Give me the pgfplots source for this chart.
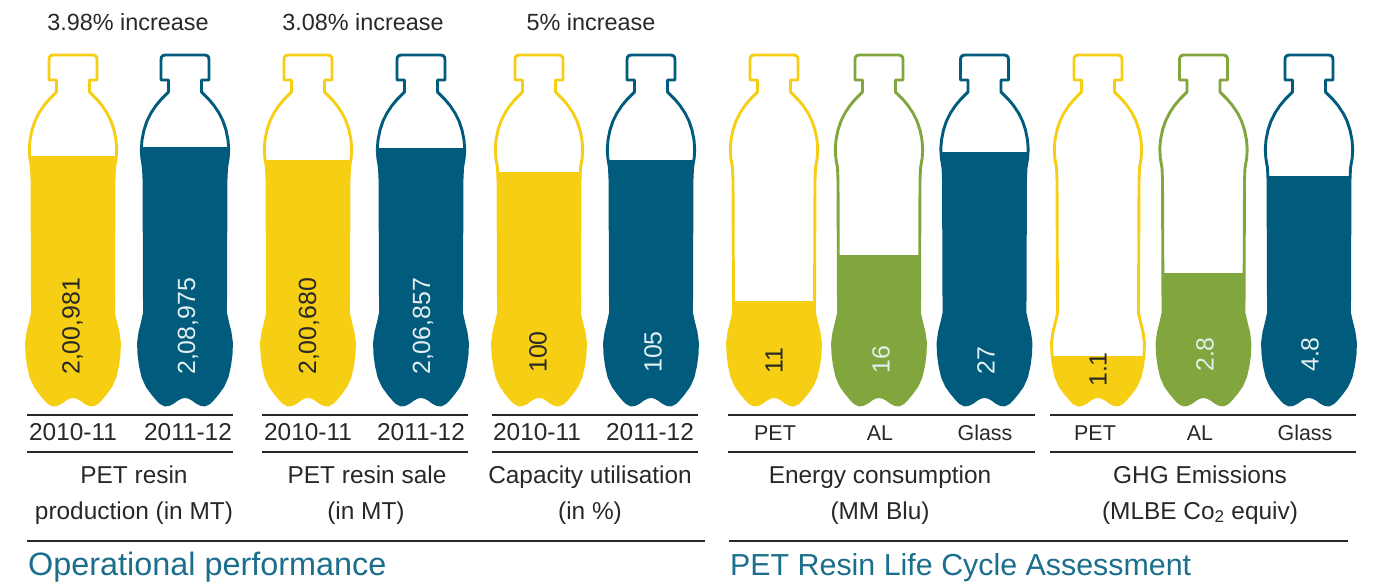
\documentclass[border=0pt]{standalone}
\usepackage{pgfplots}
\usepackage{pgfplotstable}
\pgfplotsset{compat=1.18}
\usepackage{fontspec}
\setmainfont{Liberation Sans}
\definecolor{cY}{RGB}{246,206,20}
\definecolor{cB}{RGB}{0,91,125}
\definecolor{cG}{RGB}{130,166,62}
\definecolor{txt}{RGB}{40,40,40}
\definecolor{ttl}{RGB}{27,110,140}
\definecolor{lite}{RGB}{228,238,240}

% bottle outline template: dx from bottle centre, y in pixels (downwards)
\pgfplotstableread{
dx y
0 55
-20 55
-22.5 55.8
-23.7 57.5
-24 60
-24 80
-16.5 80
-16.5 92
-20 95.5
-24 99.5
-29 105.5
-34 113
-38 121
-41 130
-43 140
-43.7 149
-43.2 158
-41.5 168
-41 180
-40.5 313
-42.5 322
-45 332
-46.5 343
-46 355
-44.5 366
-42 377
-38 386
-33 393
-28 399
-24 403
-20 405
-16 404.5
-12 402.5
-8 399.5
-4 397.3
0 396.5
4 397.3
8 399.5
12 402.5
16 404.5
20 405
24 403
28 399
33 393
38 386
42 377
44.5 366
46 355
46.5 343
45 332
42.5 322
40.5 313
41 180
41.5 168
43.2 158
43.7 149
43 140
41 130
38 121
34 113
29 105.5
24 99.5
20 95.5
16.5 92
16.5 80
24 80
24 60
23.7 57.5
22.5 55.8
20 55
0 55
}\bottletpl

% #1 centre x, #2 fill level (pixel y of the liquid surface), #3 colour
\newcommand{\bottle}[3]{%
  \addplot[fill=#3, draw=none] table[x expr=\thisrow{dx}+#1, y=y] {\bottletpl};
  \addplot[fill=white, draw=none] coordinates {(#1-49,50) (#1+49,50) (#1+49,#2) (#1-49,#2)};
  \addplot[draw=#3, line width=2.9pt, line join=round] table[x expr=\thisrow{dx}+#1, y=y] {\bottletpl};
}
\newcommand{\cat}[3]{\node[anchor=base, text=txt, inner sep=0] at (axis cs:#1,440) {\fontsize{#3}{27}\selectfont #2};}
\newcommand{\val}[4]{\node[rotate=90, anchor=west, inner sep=0, text=#4] at (axis cs:#1,#2) {\fontsize{25}{25}\selectfont #3};}
\newcommand{\glab}[3]{\node[anchor=base, text=txt, inner sep=0] at (axis cs:#1,#2) {\fontsize{24.5}{29}\selectfont #3};}

\begin{document}
\begin{tikzpicture}
\begin{axis}[
  width=1373bp, height=583bp, scale only axis,
  xmin=0, xmax=1373, ymin=0, ymax=583, y dir=reverse,
  hide axis, clip=false]
\addplot[draw=none] coordinates {(0,0) (1373,583)};

% bottles: centre, liquid level, colour
\bottle{73}{156}{cY}
\bottle{185}{147}{cB}
\bottle{308}{160}{cY}
\bottle{421}{148}{cB}
\bottle{539}{172}{cY}
\bottle{651}{160}{cB}
\bottle{774}{301}{cY}
\bottle{879}{255}{cG}
\bottle{984.5}{152}{cB}
\bottle{1098}{356}{cY}
\bottle{1203.5}{273}{cG}
\bottle{1309}{176}{cB}

% rules
\addplot[txt, line width=1.3pt] coordinates {(27,415) (233,415)};
\addplot[txt, line width=1.3pt] coordinates {(262,415) (468,415)};
\addplot[txt, line width=1.3pt] coordinates {(492,415) (698,415)};
\addplot[txt, line width=1.3pt] coordinates {(728,415) (1035,415)};
\addplot[txt, line width=1.3pt] coordinates {(1050,415) (1356,415)};
\addplot[txt, line width=1.3pt] coordinates {(27,452) (233,452)};
\addplot[txt, line width=1.3pt] coordinates {(262,452) (468,452)};
\addplot[txt, line width=1.3pt] coordinates {(492,452) (698,452)};
\addplot[txt, line width=1.3pt] coordinates {(728,452) (1035,452)};
\addplot[txt, line width=1.3pt] coordinates {(1050,452) (1356,452)};
\addplot[txt, line width=1.3pt] coordinates {(27,541) (705,541)};
\addplot[txt, line width=1.3pt] coordinates {(729,541) (1348,541)};

% top annotations
\node[anchor=base, text=txt, inner sep=0] at (axis cs:128,31) {\fontsize{23.5}{28}\selectfont 3.98\% increase};
\node[anchor=base, text=txt, inner sep=0] at (axis cs:363,31) {\fontsize{23.5}{28}\selectfont 3.08\% increase};
\node[anchor=base, text=txt, inner sep=0] at (axis cs:591,31) {\fontsize{23.5}{28}\selectfont 5\% increase};

% values inside bottles
\val{72.5}{375}{2,00,981}{txt}
\val{188}{375}{2,08,975}{lite}
\val{309}{375}{2,00,680}{txt}
\val{423}{375}{2,06,857}{lite}
\val{538}{373}{100}{txt}
\val{653}{373}{105}{lite}
\val{774}{374}{11}{txt}
\val{881}{374}{16}{lite}
\val{986}{375}{27}{lite}
\val{1098}{387}{1.1}{txt}
\val{1205}{372}{2.8}{lite}
\val{1310}{372}{4.8}{lite}

% category labels
\cat{73}{2010-11}{24.5}
\cat{188}{2011-12}{24.5}
\cat{308}{2010-11}{24.5}
\cat{421}{2011-12}{24.5}
\cat{537}{2010-11}{24.5}
\cat{650}{2011-12}{24.5}
\cat{775}{PET}{21.5}
\cat{880}{AL}{21.5}
\cat{985}{Glass}{21.5}
\cat{1095}{PET}{21.5}
\cat{1200}{AL}{21.5}
\cat{1305}{Glass}{21.5}

% group labels
\glab{134}{483}{PET resin}
\glab{134}{519}{production (in MT)}
\glab{367}{483}{PET resin sale}
\glab{366}{519}{(in MT)}
\glab{590}{483}{Capacity utilisation}
\glab{590}{519}{(in \%)}
\glab{880}{483}{Energy consumption}
\glab{880}{519}{(MM Blu)}
\glab{1200}{483}{GHG Emissions}
\glab{1200}{519}{(MLBE Co\textsubscript{2} equiv)}

% section titles
\node[anchor=base west, text=ttl, inner sep=0] at (axis cs:28,575) {\fontsize{32.5}{37}\selectfont Operational performance};
\node[anchor=base west, text=ttl, inner sep=0] at (axis cs:730,575) {\fontsize{30.5}{36}\selectfont PET Resin Life Cycle Assessment};
\end{axis}
\end{tikzpicture}
\end{document}
